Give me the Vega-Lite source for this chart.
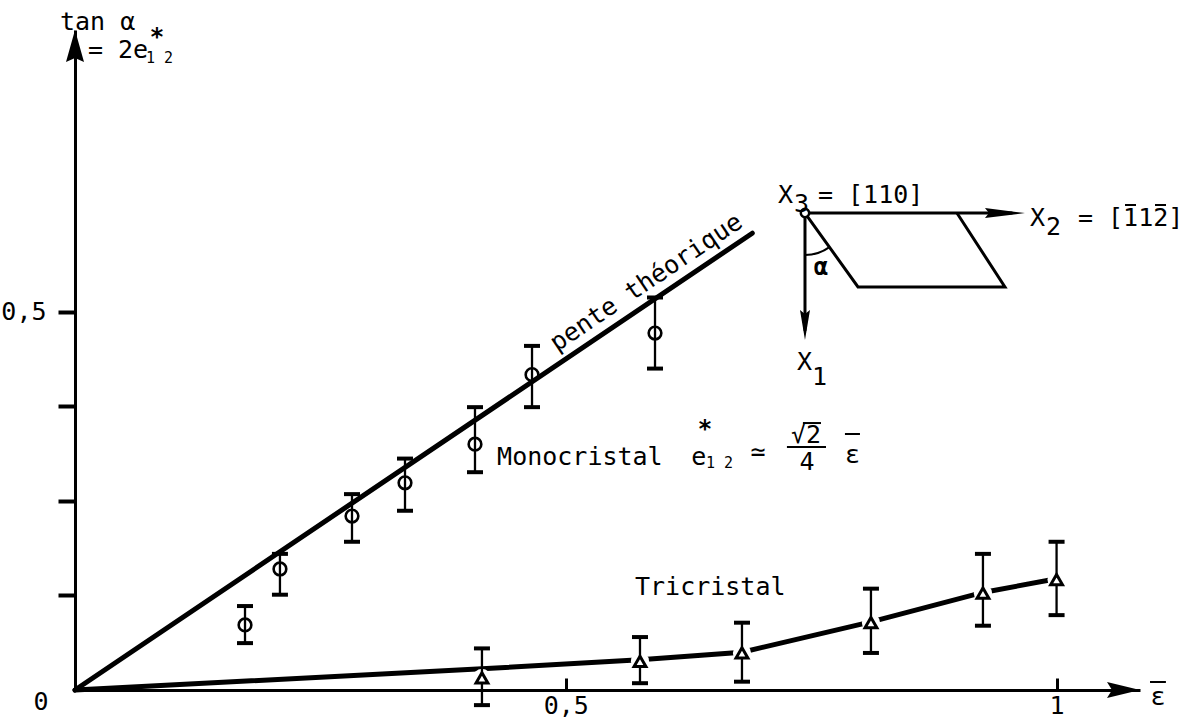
{
  "$schema": "https://vega.github.io/schema/vega-lite/v6.json",
  "autosize": {"type": "none"},
  "width": 1065,
  "height": 660,
  "padding": {"left": 75, "top": 30, "right": 60, "bottom": 38},
  "background": "white",
  "config": {
    "view": {"stroke": null},
    "font": "DejaVu Sans Mono",
    "axis": {
      "grid": false,
      "domainColor": "black",
      "domainWidth": 3,
      "tickColor": "black",
      "labelColor": "black",
      "labelFont": "DejaVu Sans Mono",
      "labelFontSize": 25
    }
  },
  "datasets": {
    "theorie": [
      {"x": 0, "y": 0},
      {"x": 0.69, "y": 0.604}
    ],
    "monocristal": [
      {"x": 0.1732, "y": 0.086, "lo": 0.062, "hi": 0.111},
      {"x": 0.2088, "y": 0.160, "lo": 0.126, "hi": 0.180},
      {"x": 0.2822, "y": 0.230, "lo": 0.196, "hi": 0.259},
      {"x": 0.3362, "y": 0.274, "lo": 0.237, "hi": 0.306},
      {"x": 0.4075, "y": 0.325, "lo": 0.288, "hi": 0.374},
      {"x": 0.4656, "y": 0.417, "lo": 0.374, "hi": 0.455},
      {"x": 0.5909, "y": 0.472, "lo": 0.425, "hi": 0.519}
    ],
    "tricristal": [
      {"x": 0.4146, "y": 0.016, "lo": -0.020, "hi": 0.055},
      {"x": 0.5756, "y": 0.038, "lo": 0.009, "hi": 0.070},
      {"x": 0.6795, "y": 0.049, "lo": 0.011, "hi": 0.089},
      {"x": 0.8109, "y": 0.089, "lo": 0.049, "hi": 0.134},
      {"x": 0.9250, "y": 0.128, "lo": 0.085, "hi": 0.180},
      {"x": 1.0, "y": 0.146, "lo": 0.099, "hi": 0.196}
    ],
    "courbe_tri": [
      {"x": 0, "y": 0},
      {"x": 0.4146, "y": 0.028},
      {"x": 0.5756, "y": 0.040},
      {"x": 0.6795, "y": 0.050},
      {"x": 0.8109, "y": 0.090},
      {"x": 0.9250, "y": 0.129},
      {"x": 1.0, "y": 0.147}
    ],
    "fleches": [
      {"dir": "x", "x": 1.085, "y": 0},
      {"dir": "y", "x": 0, "y": 0.8727},
      {"dir": "x2", "x": 0.9678, "y": 0.6307},
      {"dir": "x1", "x": 0.7437, "y": 0.4628}
    ],
    "schema": [
      {"seg": "x2", "i": 0, "x": 0.7437, "y": 0.6307},
      {"seg": "x2", "i": 1, "x": 0.955, "y": 0.6307},
      {"seg": "x1", "i": 0, "x": 0.7437, "y": 0.6307},
      {"seg": "x1", "i": 1, "x": 0.7437, "y": 0.475},
      {"seg": "maille", "i": 0, "x": 0.7437, "y": 0.6307},
      {"seg": "maille", "i": 1, "x": 0.7977, "y": 0.5329},
      {"seg": "maille", "i": 2, "x": 0.9474, "y": 0.5329},
      {"seg": "maille", "i": 3, "x": 0.8985, "y": 0.6307}
    ],
    "origine_schema": [
      {"x": 0.7437, "y": 0.6307}
    ],
    "textes": [
      {"x": -0.0153, "y": 0.8727, "t": "tan α"},
      {"x": 0.0132, "y": 0.8356, "t": "= 2e"},
      {"x": 0.4300, "y": 0.2975, "t": "Monocristal"},
      {"x": 0.6277, "y": 0.2975, "t": "e"},
      {"x": 0.7844, "y": 0.3001, "t": "ε"},
      {"x": 0.5705, "y": 0.1256, "t": "Tricristal"},
      {"x": 0.7162, "y": 0.6439, "t": "X"},
      {"x": 0.7325, "y": 0.6320, "t": "3"},
      {"x": 0.7569, "y": 0.6439, "t": "= [110]"},
      {"x": 0.9729, "y": 0.6135, "t": "X"},
      {"x": 0.9892, "y": 0.6015, "t": "2"},
      {"x": 1.0218, "y": 0.6135, "t": "= [112]"},
      {"x": 0.7355, "y": 0.4231, "t": "X"},
      {"x": 0.7508, "y": 0.4033, "t": "1"}
    ],
    "indices": [
      {"x": 0.0723, "y": 0.8290, "t": "1 2"},
      {"x": 0.6429, "y": 0.2935, "t": "1 2"}
    ],
    "etoiles": [
      {"x": 0.0835, "y": 0.8780, "t": "*"},
      {"x": 0.6419, "y": 0.3597, "t": "*"}
    ],
    "centres": [
      {"x": -0.0346, "y": -0.0264, "t": "0"},
      {"x": 0.7457, "y": 0.2909, "t": "4"},
      {"x": 0.7447, "y": 0.3266, "t": "√2"},
      {"x": 1.1033, "y": -0.0198, "t": "ε"},
      {"x": 0.6958, "y": 0.3041, "t": "≃"}
    ],
    "barres": [
      {"x": 0.7253, "x2": 0.7651, "y": 0.3213},
      {"x": 0.7416, "x2": 0.7600, "y": 0.3530},
      {"x": 0.7844, "x2": 0.7997, "y": 0.3385},
      {"x": 1.0952, "x2": 1.1114, "y": 0.0106},
      {"x": 1.0697, "x2": 1.0809, "y": 0.6413},
      {"x": 1.1003, "x2": 1.1115, "y": 0.6413}
    ],
    "angle_alpha": [
      {"x": 0.7600, "y": 0.5580, "t": "α"}
    ],
    "pente": [
      {"x": 0.4910, "y": 0.4469, "t": "pente théorique"}
    ]
  },
  "layer": [
    {
      "data": {"name": "theorie"},
      "mark": {"type": "line", "color": "black", "strokeWidth": 5, "strokeCap": "round"},
      "encoding": {
        "x": {
          "field": "x", "type": "quantitative", "title": null,
          "scale": {"domain": [0, 1.085], "nice": false},
          "axis": {
            "title": null,
            "values": [0.5, 1],
            "labelExpr": "datum.value == 0.5 ? '0,5' : '1'",
            "tickSize": -12,
            "tickWidth": 3,
            "labelPadding": 15,
            "labelFlush": false,
            "labelOverlap": false
          }
        },
        "y": {
          "field": "y", "type": "quantitative", "title": null,
          "scale": {"domain": [0, 0.8727], "nice": false},
          "axis": {
            "title": null,
            "values": [0.125, 0.25, 0.375, 0.5],
            "labelExpr": "datum.value == 0.5 ? '0,5' : ''",
            "tickSize": 17,
            "tickWidth": 4,
            "labelPadding": 12,
            "labelFlush": false,
            "labelOverlap": false
          }
        }
      }
    },
    {
      "data": {"name": "courbe_tri"},
      "mark": {"type": "line", "color": "black", "strokeWidth": 5, "strokeCap": "round"},
      "encoding": {
        "x": {"field": "x", "type": "quantitative", "title": null},
        "y": {"field": "y", "type": "quantitative", "title": null}
      }
    },
    {
      "data": {"name": "tricristal"},
      "mark": {"type": "point", "shape": "circle", "filled": true, "color": "white", "opacity": 1, "size": 330},
      "encoding": {
        "x": {"field": "x", "type": "quantitative", "title": null},
        "y": {"field": "y", "type": "quantitative", "title": null}
      }
    },
    {
      "data": {"name": "monocristal"},
      "mark": {
        "type": "errorbar", "color": "black",
        "rule": {"strokeWidth": 2.3, "opacity": 1},
        "ticks": {"size": 16, "thickness": 4, "color": "black", "opacity": 1}
      },
      "encoding": {
        "x": {"field": "x", "type": "quantitative", "title": null},
        "y": {"field": "lo", "type": "quantitative", "title": null},
        "y2": {"field": "hi", "title": null}
      }
    },
    {
      "data": {"name": "tricristal"},
      "mark": {
        "type": "errorbar", "color": "black",
        "rule": {"strokeWidth": 2.3, "opacity": 1},
        "ticks": {"size": 16, "thickness": 4, "color": "black", "opacity": 1}
      },
      "encoding": {
        "x": {"field": "x", "type": "quantitative", "title": null},
        "y": {"field": "lo", "type": "quantitative", "title": null},
        "y2": {"field": "hi", "title": null}
      }
    },
    {
      "data": {"name": "monocristal"},
      "mark": {"type": "point", "shape": "circle", "filled": false, "stroke": "black", "strokeWidth": 2.6, "opacity": 1, "size": 160},
      "encoding": {
        "x": {"field": "x", "type": "quantitative", "title": null},
        "y": {"field": "y", "type": "quantitative", "title": null}
      }
    },
    {
      "data": {"name": "tricristal"},
      "mark": {"type": "point", "shape": "triangle-up", "filled": true, "fill": "white", "stroke": "black", "strokeWidth": 3, "opacity": 1, "size": 140},
      "encoding": {
        "x": {"field": "x", "type": "quantitative", "title": null},
        "y": {"field": "y", "type": "quantitative", "title": null}
      }
    },
    {
      "data": {"name": "schema"},
      "mark": {"type": "line", "color": "black", "strokeWidth": 3},
      "encoding": {
        "x": {"field": "x", "type": "quantitative", "title": null},
        "y": {"field": "y", "type": "quantitative", "title": null},
        "detail": {"field": "seg"},
        "order": {"field": "i"}
      }
    },
    {
      "data": {"name": "origine_schema"},
      "mark": {"type": "arc", "fill": "black", "theta": 2.52, "theta2": 3.1416, "radius": 43, "radius2": 41},
      "encoding": {
        "x": {"field": "x", "type": "quantitative", "title": null},
        "y": {"field": "y", "type": "quantitative", "title": null}
      }
    },
    {
      "data": {"name": "origine_schema"},
      "mark": {"type": "point", "shape": "circle", "filled": true, "fill": "white", "stroke": "black", "strokeWidth": 2.5, "opacity": 1, "size": 70},
      "encoding": {
        "x": {"field": "x", "type": "quantitative", "title": null},
        "y": {"field": "y", "type": "quantitative", "title": null}
      }
    },
    {
      "data": {"name": "fleches"},
      "mark": {"type": "point", "filled": true, "color": "black", "opacity": 1, "size": 100},
      "encoding": {
        "x": {"field": "x", "type": "quantitative", "title": null},
        "y": {"field": "y", "type": "quantitative", "title": null},
        "shape": {
          "field": "dir", "type": "nominal", "legend": null,
          "scale": {
            "domain": ["x", "y", "x2", "x1"],
            "range": [
              "M0,0 L-6.6,-1.6 L-5.6,0 L-6.6,1.6 Z",
              "M0,0 L-1.8,6.4 L0,5.6 L1.8,6.4 Z",
              "M0,0 L-8,-1 L-7.2,0 L-8,1 Z",
              "M0,0 L-1,-6 L0,-5.2 L1,-6 Z"
            ]
          }
        }
      }
    },
    {
      "data": {"name": "textes"},
      "mark": {"type": "text", "font": "DejaVu Sans Mono", "fontSize": 25, "align": "left", "baseline": "alphabetic", "color": "black"},
      "encoding": {
        "x": {"field": "x", "type": "quantitative", "title": null},
        "y": {"field": "y", "type": "quantitative", "title": null},
        "text": {"field": "t"}
      }
    },
    {
      "data": {"name": "indices"},
      "mark": {"type": "text", "font": "DejaVu Sans Mono", "fontSize": 15, "align": "left", "baseline": "alphabetic", "color": "black"},
      "encoding": {
        "x": {"field": "x", "type": "quantitative", "title": null},
        "y": {"field": "y", "type": "quantitative", "title": null},
        "text": {"field": "t"}
      }
    },
    {
      "data": {"name": "etoiles"},
      "mark": {"type": "text", "font": "DejaVu Sans Mono", "fontSize": 24, "fontWeight": "bold", "align": "center", "baseline": "top", "color": "black"},
      "encoding": {
        "x": {"field": "x", "type": "quantitative", "title": null},
        "y": {"field": "y", "type": "quantitative", "title": null},
        "text": {"field": "t"}
      }
    },
    {
      "data": {"name": "centres"},
      "mark": {"type": "text", "font": "DejaVu Sans Mono", "fontSize": 25, "align": "center", "baseline": "alphabetic", "color": "black"},
      "encoding": {
        "x": {"field": "x", "type": "quantitative", "title": null},
        "y": {"field": "y", "type": "quantitative", "title": null},
        "text": {"field": "t"}
      }
    },
    {
      "data": {"name": "barres"},
      "mark": {"type": "rule", "color": "black", "strokeWidth": 2},
      "encoding": {
        "x": {"field": "x", "type": "quantitative", "title": null},
        "x2": {"field": "x2", "title": null},
        "y": {"field": "y", "type": "quantitative", "title": null}
      }
    },
    {
      "data": {"name": "angle_alpha"},
      "mark": {"type": "text", "font": "DejaVu Sans Mono", "fontSize": 24, "fontWeight": "bold", "align": "center", "baseline": "middle", "color": "black"},
      "encoding": {
        "x": {"field": "x", "type": "quantitative", "title": null},
        "y": {"field": "y", "type": "quantitative", "title": null},
        "text": {"field": "t"}
      }
    },
    {
      "data": {"name": "pente"},
      "mark": {"type": "text", "font": "DejaVu Sans Mono", "fontSize": 25, "align": "left", "baseline": "alphabetic", "angle": -34, "color": "black"},
      "encoding": {
        "x": {"field": "x", "type": "quantitative", "title": null},
        "y": {"field": "y", "type": "quantitative", "title": null},
        "text": {"field": "t"}
      }
    }
  ]
}
